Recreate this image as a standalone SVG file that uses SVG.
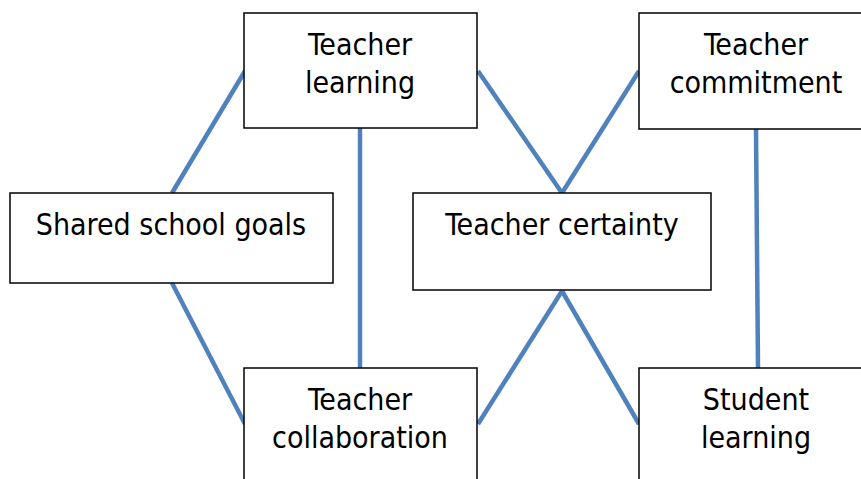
<svg xmlns="http://www.w3.org/2000/svg" width="861" height="479" viewBox="0 0 861 479">
<style>
.box{fill:#fff;stroke:#000;stroke-width:1.5}
.lbl{font-family:"DejaVu Sans Condensed","DejaVu Sans",Verdana,sans-serif;font-stretch:condensed;font-size:30px;fill:#000;text-anchor:middle}
.con{stroke:#4F81BD;stroke-width:4.5;fill:none}
</style>
<rect width="861" height="479" fill="#fff"/>
<g id="connectors">
<line class="con" x1="245" y1="71" x2="172" y2="193"/>
<line class="con" x1="360" y1="128" x2="360" y2="368"/>
<line class="con" x1="478" y1="71" x2="562" y2="193"/>
<line class="con" x1="639" y1="71" x2="562" y2="193"/>
<line class="con" x1="756" y1="129" x2="758" y2="368"/>
<line class="con" x1="172" y1="283" x2="245" y2="424"/>
<line class="con" x1="562" y1="291" x2="478" y2="424"/>
<line class="con" x1="562" y1="291" x2="639" y2="424"/>
</g>
<g id="teacher-learning">
<rect class="box" x="244" y="13" width="233" height="115"/>
<text class="lbl" x="360" y="55">Teacher</text>
<text class="lbl" x="360" y="93">learning</text>
</g>
<g id="teacher-commitment">
<rect class="box" x="639" y="13" width="240" height="116"/>
<text class="lbl" x="756" y="55">Teacher</text>
<text class="lbl" x="756" y="93">commitment</text>
</g>
<g id="shared-school-goals">
<rect class="box" x="10" y="193" width="323" height="90"/>
<text class="lbl" x="171" y="235">Shared school goals</text>
</g>
<g id="teacher-certainty">
<rect class="box" x="413" y="193" width="298" height="97"/>
<text class="lbl" x="562" y="235">Teacher certainty</text>
</g>
<g id="teacher-collaboration">
<rect class="box" x="244" y="368" width="233" height="130"/>
<text class="lbl" x="360" y="410">Teacher</text>
<text class="lbl" x="360" y="448">collaboration</text>
</g>
<g id="student-learning">
<rect class="box" x="639" y="368" width="240" height="130"/>
<text class="lbl" x="756" y="410">Student</text>
<text class="lbl" x="756" y="448">learning</text>
</g>
</svg>
